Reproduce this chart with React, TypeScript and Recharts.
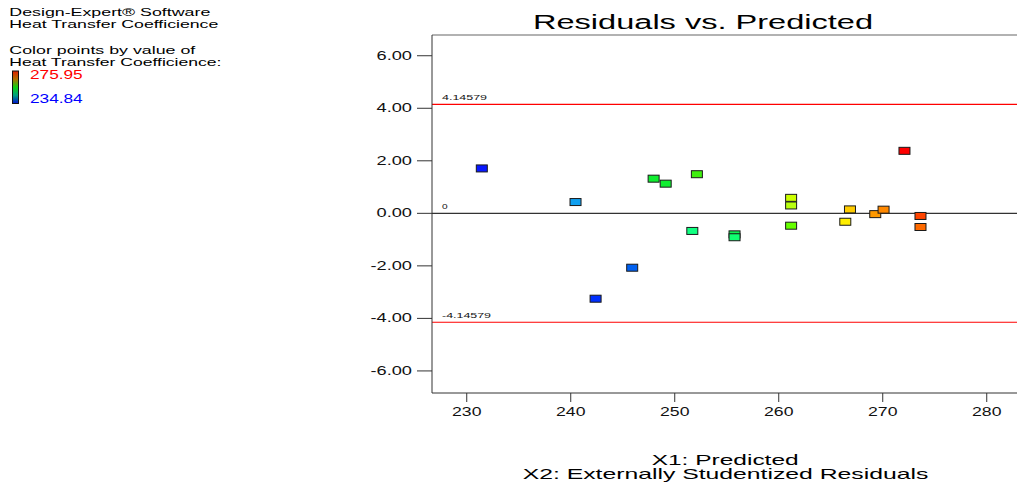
import React from "react";
import { ReferenceLine, Scatter, ScatterChart, XAxis, YAxis } from "recharts";

// predicted values (x) and externally studentized residuals (y)
const predicted = [
  231.45, 240.46, 242.39, 245.91, 247.97, 249.13, 251.69, 252.13, 255.75, 255.75,
  261.19, 261.19, 261.19, 266.4, 266.85, 269.28, 270.08, 272.09, 273.63, 273.63,
];
const residuals = [
  1.71, 0.43, -3.25, -2.07, 1.32, 1.13, -0.67, 1.49, -0.8, -0.91,
  0.59, 0.3, -0.47, -0.32, 0.15, -0.03, 0.14, 2.38, -0.1, -0.52,
];
const pointColors = [
  "#0818ff", "#10a0f0", "#0030ff", "#0060f0", "#10ee30", "#10ee30", "#10ff80", "#40f010", "#10ee50", "#10ff70",
  "#ccff00", "#b8ff10", "#66ff00", "#ffee00", "#ffcc00", "#ff9900", "#ff8800", "#ff0000", "#ff4400", "#ff6a00",
];

const xTicks = [230, 240, 250, 260, 270, 280];
const yTicks = [-6, -4, -2, 0, 2, 4, 6];
const limit = 4.14579;
const X_MIN = 226.66;
const X_MAX = 282.91;
const Y_MIN = -6.84;
const Y_MAX = 6.79;

const FONT = "'Liberation Sans', Arial, sans-serif";

const points = predicted.map((x, i) => ({ x, y: residuals[i], color: pointColors[i] }));

function XTick({ x, y, payload }: any) {
  return (
    <text
      transform={`translate(${x},${y + 12}) scale(1.47,1)`}
      textAnchor="middle"
      fontFamily={FONT}
      fontSize={12}
      fill="#111"
    >
      {payload.value}
    </text>
  );
}

function YTick({ x, y, payload }: any) {
  return (
    <text
      transform={`translate(${x},${y + 4}) scale(1.52,1)`}
      textAnchor="end"
      fontFamily={FONT}
      fontSize={12}
      fill="#111"
    >
      {Number(payload.value).toFixed(2)}
    </text>
  );
}

function RefLabel({ viewBox, text, len }: any) {
  if (!viewBox) return null;
  return (
    <text
      x={viewBox.x + 10}
      y={viewBox.y - 4}
      fontFamily={FONT}
      fontSize={8}
      fill="#111"
      stroke="none"
      textLength={len}
      lengthAdjust="spacingAndGlyphs"
    >
      {text}
    </text>
  );
}

function Marker(props: any) {
  const { cx, cy, payload } = props;
  return (
    <rect
      x={cx - 5.5}
      y={cy - 3.5}
      width={11}
      height={7}
      fill={payload.color}
      stroke="#1a1a1a"
      strokeWidth={1}
    />
  );
}

export default function App() {
  return (
    <div style={{ position: "absolute", left: 0, top: 0, width: 1017, height: 487, background: "#fff", overflow: "hidden" }}>
      <ScatterChart width={1017} height={487} margin={{ top: 35, right: 0, bottom: 0, left: 372 }}>
        <XAxis
          type="number"
          dataKey="x"
          domain={[X_MIN, X_MAX]}
          ticks={xTicks}
          allowDataOverflow
          height={94}
          tickSize={9}
          tickMargin={2}
          stroke="#333"
          tick={<XTick />}
        />
        <YAxis
          type="number"
          dataKey="y"
          domain={[Y_MIN, Y_MAX]}
          ticks={yTicks}
          allowDataOverflow
          width={60}
          tickSize={15}
          tickMargin={5}
          stroke="#333"
          tick={<YTick />}
        />
        <ReferenceLine y={Y_MAX} stroke="#666" strokeWidth={1.2} />
        <ReferenceLine y={limit} stroke="#ff0000" strokeWidth={1.2} label={<RefLabel text="4.14579" len={45} />} />
        <ReferenceLine y={0} stroke="#333" strokeWidth={1.2} label={<RefLabel text="0" len={5.6} />} />
        <ReferenceLine y={-limit} stroke="#ff0000" strokeWidth={1.2} label={<RefLabel text="-4.14579" len={49} />} />
        <Scatter data={points} shape={<Marker />} isAnimationActive={false} />
      </ScatterChart>

      <svg width={1017} height={487} style={{ position: "absolute", left: 0, top: 0, pointerEvents: "none" }}>
        <defs>
          <linearGradient id="heat" x1="0" y1="0" x2="0" y2="1">
            <stop offset="0%" stopColor="#e02000" />
            <stop offset="25%" stopColor="#b07000" />
            <stop offset="50%" stopColor="#10d010" />
            <stop offset="75%" stopColor="#00a080" />
            <stop offset="100%" stopColor="#0010d0" />
          </linearGradient>
        </defs>
        <g fontFamily={FONT} fill="#000">
          <text x={9.3} y={16.3} fontSize={11.5} textLength={201} lengthAdjust="spacingAndGlyphs">Design-Expert® Software</text>
          <text x={9.3} y={27.8} fontSize={11.5} textLength={209} lengthAdjust="spacingAndGlyphs">Heat Transfer Coefficience</text>
          <text x={9.3} y={54} fontSize={11.5} textLength={186} lengthAdjust="spacingAndGlyphs">Color points by value of</text>
          <text x={9.3} y={65.5} fontSize={11.5} textLength={212} lengthAdjust="spacingAndGlyphs">Heat Transfer Coefficience:</text>
          <text x={30} y={78.7} fontSize={12} fill="#ff0000" textLength={52.7} lengthAdjust="spacingAndGlyphs">275.95</text>
          <text x={30} y={103.3} fontSize={12} fill="#0000ff" textLength={52.7} lengthAdjust="spacingAndGlyphs">234.84</text>
          <text x={533} y={29.3} fontSize={20} textLength={340} lengthAdjust="spacingAndGlyphs">Residuals vs. Predicted</text>
          <text x={651.7} y={465} fontSize={14.5} textLength={147} lengthAdjust="spacingAndGlyphs">X1: Predicted</text>
          <text x={522.7} y={479.3} fontSize={14.5} textLength={405.6} lengthAdjust="spacingAndGlyphs">X2: Externally Studentized Residuals</text>
        </g>
        <rect x={12.5} y={71} width={6} height={32.5} fill="url(#heat)" stroke="#111" strokeWidth={1} />
      </svg>
    </div>
  );
}
